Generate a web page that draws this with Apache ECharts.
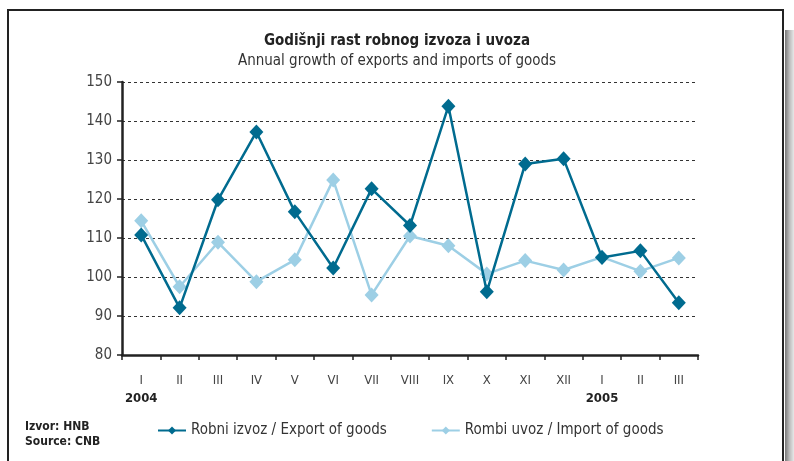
<!DOCTYPE html>
<html>
<head>
<meta charset="utf-8">
<script src="https://cdn.jsdelivr.net/npm/echarts@6/dist/echarts.min.js"></script>
<style>
  html, body { margin: 0; padding: 0; background: #fff; }
  #main { width: 794px; height: 461px; }
</style>
</head>
<body>
<div id="main"></div>
<script>
// months (Roman numerals) and the year shown under some of them
var months = ['I', 'II', 'III', 'IV', 'V', 'VI', 'VII', 'VIII', 'IX', 'X', 'XI', 'XII', 'I', 'II', 'III'];
var years = ['2004', '', '', '', '', '', '', '', '', '', '', '', '2005', '', ''];

// index values
var exportGoods = [110.8, 92.1, 119.8, 137.2, 116.7, 102.3, 122.6, 113.2, 143.8, 96.2, 129.0, 130.3, 105.0, 106.7, 93.4];
var importGoods = [114.4, 97.5, 108.9, 98.8, 104.4, 124.9, 95.4, 110.5, 108.0, 100.8, 104.2, 101.8, 105.1, 101.5, 104.9];

var yTicks = { min: 80, max: 150, interval: 10 };

var font = '"Liberation Sans Narrow", "DejaVu Sans Condensed", "Open Sans", sans-serif';
var darkBlue = '#006b8f';
var lightBlue = '#9dcfe5';

var myChart = echarts.init(document.getElementById('main'));
myChart.setOption({
    backgroundColor: '#fff',
    animation: false,
    title: {
        text: 'Godišnji rast robnog izvoza i uvoza',
        subtext: 'Annual growth of exports and imports of goods',
        left: 'center',
        top: 29,
        itemGap: 5,
        textStyle: { fontFamily: font, fontWeight: 'bold', fontSize: 15, color: '#222' },
        subtextStyle: { fontFamily: font, fontSize: 15, color: '#333' }
    },
    legend: {
        bottom: 18,
        left: 152,
        itemGap: 44,
        itemWidth: 28,
        itemHeight: 10,
        textStyle: { fontFamily: font, fontSize: 15, color: '#333' },
        data: ['Robni izvoz / Export of goods', 'Rombi uvoz / Import of goods']
    },
    grid: {
        left: 122,
        right: 96,
        top: 82,
        bottom: 106
    },
    xAxis: {
        type: 'category',
        data: months,
        boundaryGap: true,
        axisLine: { lineStyle: { color: '#222', width: 2.5 } },
        axisTick: { show: true, inside: false, length: 5, lineStyle: { color: '#222', width: 1.5 } },
        axisLabel: {
            interval: 0,
            margin: 17,
            fontFamily: font,
            fontSize: 13,
            color: '#444',
            lineHeight: 18,
            formatter: function (value, idx) {
                return years[idx] ? value + '\n{y|' + years[idx] + '}' : value;
            },
            rich: {
                y: { fontFamily: font, fontWeight: 'bold', fontSize: 13, color: '#222', lineHeight: 18 }
            }
        }
    },
    yAxis: {
        type: 'value',
        min: yTicks.min,
        max: yTicks.max,
        interval: yTicks.interval,
        axisLine: { show: true, lineStyle: { color: '#222', width: 2.5 } },
        axisTick: { show: true, length: 5, lineStyle: { color: '#222', width: 1.5 } },
        axisLabel: { fontFamily: font, fontSize: 15, color: '#444', margin: 10 },
        splitLine: { show: true, lineStyle: { color: '#333', type: [3, 3], width: 1 } }
    },
    series: [
        {
            name: 'Robni izvoz / Export of goods',
            type: 'line',
            data: exportGoods,
            symbol: 'diamond',
            symbolSize: [14, 15],
            z: 3,
            lineStyle: { color: darkBlue, width: 2.5 },
            itemStyle: { color: darkBlue }
        },
        {
            name: 'Rombi uvoz / Import of goods',
            type: 'line',
            data: importGoods,
            symbol: 'diamond',
            symbolSize: [14, 15],
            z: 2,
            lineStyle: { color: lightBlue, width: 2.5 },
            itemStyle: { color: lightBlue }
        }
    ],
    graphic: [
        // frame around the chart
        {
            type: 'rect',
            shape: { x: 8, y: 10, width: 775, height: 470 },
            style: { fill: 'none', stroke: '#222', lineWidth: 2 },
            silent: true
        },
        // grey shadow on the right
        {
            type: 'rect',
            shape: { x: 785, y: 30, width: 9, height: 440 },
            style: {
                fill: new echarts.graphic.LinearGradient(0, 0, 1, 0, [
                    { offset: 0, color: '#777' },
                    { offset: 0.5, color: '#bbb' },
                    { offset: 1, color: '#e8e8e8' }
                ])
            },
            silent: true
        },
        {
            type: 'text',
            left: 25,
            top: 419,
            style: {
                text: 'Izvor: HNB\nSource: CNB',
                font: 'bold 12px ' + font,
                fill: '#222',
                lineHeight: 15
            }
        }
    ]
});
</script>
</body>
</html>
